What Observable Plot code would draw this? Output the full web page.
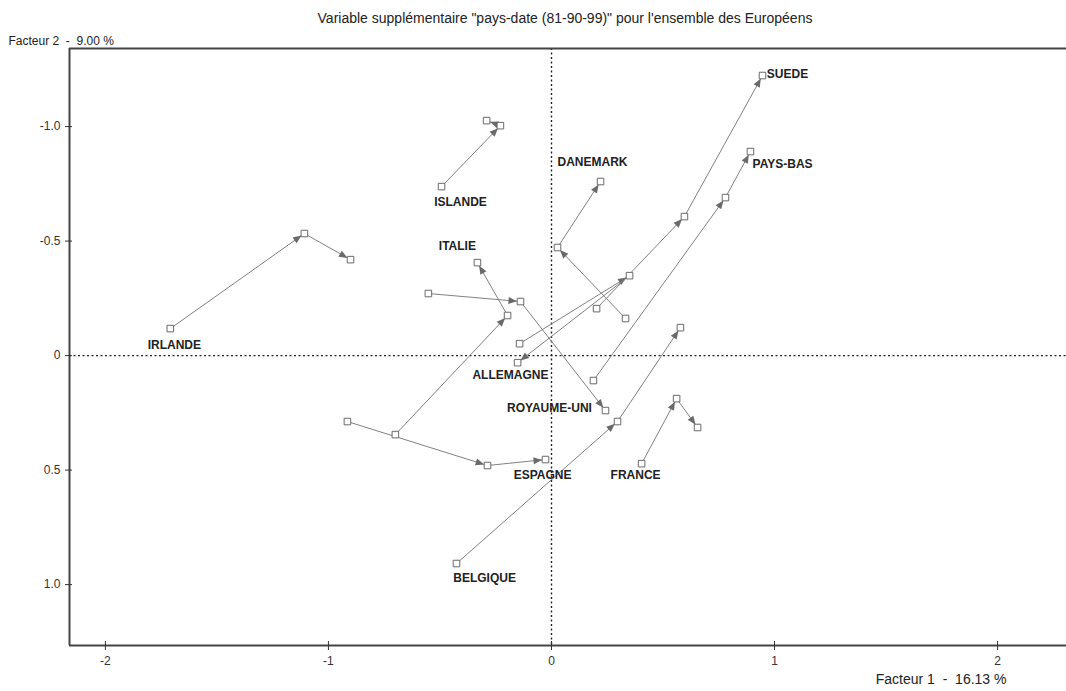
<!DOCTYPE html>
<html><head><meta charset="utf-8">
<script src="https://cdn.jsdelivr.net/npm/d3@7"></script>
<script src="https://cdn.jsdelivr.net/npm/@observablehq/plot@0.6"></script>
<style>body{margin:0;background:#fff;}</style>
</head><body><div id="chart"></div>
<script>
// ---- data ----
const countries = ["IRLANDE","ISLANDE","DANEMARK","SUEDE","PAYS-BAS","ITALIE","ALLEMAGNE","ROYAUME-UNI","ESPAGNE","FRANCE","BELGIQUE"];
const years = ["81","90","99"];
// Facteur 1 coordinates
const f1_81 = [-1.709, -0.493, 0.332, 0.202, 0.188, -0.700, -0.143, -0.552, -0.915, 0.404, -0.426];
const f1_90 = [-1.108, -0.229, 0.027, 0.596, 0.780, -0.197, 0.350, -0.139, -0.287, 0.561, 0.296];
const f1_99 = [-0.901, -0.291, 0.220, 0.946, 0.892, -0.332, -0.152, 0.242, -0.027, 0.655, 0.578];
// Facteur 2 coordinates
const f2_81 = [-0.118, -0.738, -0.162, -0.205, 0.109, 0.345, -0.052, -0.271, 0.288, 0.472, 0.908];
const f2_90 = [-0.533, -1.004, -0.472, -0.607, -0.690, -0.175, -0.349, -0.236, 0.480, 0.188, 0.288];
const f2_99 = [-0.419, -1.026, -0.760, -1.223, -0.891, -0.406, 0.031, 0.240, 0.454, 0.314, -0.122];
// label anchor (centre of each country name)
const labelF1 = [-1.691, -0.408, 0.184, 1.058, 1.036, -0.422, -0.184, -0.009, -0.040, 0.377, -0.300];
const labelF2 = [-0.044, -0.672, -0.843, -1.227, -0.838, -0.476, 0.087, 0.231, 0.524, 0.524, 0.974];
// axes
const xTicks = [-2, -1, 0, 1, 2];
const xTickLabels = ["-2", "-1", "0", "1", "2"];
const yTicks = [-1, -0.5, 0, 0.5, 1];
const yTickLabels = ["-1.0", "-0.5", "0", "0.5", "1.0"];
const xDomain = [-2.161, 2.309];
const yDomain = [-1.341, 1.266];
const title = "Variable supplémentaire \"pays-date (81-90-99)\" pour l'ensemble des Européens";
const xLabel = "Facteur 1  -  16.13 %";
const yLabel = "Facteur 2  -  9.00 %";

// ---- build tables ----
const points = [];
const segments = [];
countries.forEach((c, i) => {
  const xs = [f1_81[i], f1_90[i], f1_99[i]];
  const ys = [f2_81[i], f2_90[i], f2_99[i]];
  for (let k = 0; k < 3; k++) points.push({country: c, year: years[k], x: xs[k], y: ys[k]});
  for (let k = 0; k < 2; k++) segments.push({country: c, x1: xs[k], y1: ys[k], x2: xs[k + 1], y2: ys[k + 1]});
});
const labels = countries.map((c, i) => ({name: c, x: labelF1[i], y: labelF2[i]}));

const NS = "http://www.w3.org/2000/svg";
function arrowMarker(color) {
  const m = document.createElementNS(NS, "marker");
  m.setAttribute("viewBox", "-14 -5 14 10");
  m.setAttribute("markerWidth", 14);
  m.setAttribute("markerHeight", 10);
  m.setAttribute("markerUnits", "userSpaceOnUse");
  m.setAttribute("orient", "auto");
  m.setAttribute("refX", 0);
  m.setAttribute("refY", 0);
  const p = document.createElementNS(NS, "path");
  p.setAttribute("d", "M-12,-3.5L-3.5,0L-12,3.5Z");
  p.setAttribute("fill", "#6a6a6a");
  p.setAttribute("stroke", "none");
  m.appendChild(p);
  return m;
}

const chart = Plot.plot({
  width: 1066, height: 691,
  marginTop: 48, marginLeft: 69, marginRight: 0, marginBottom: 46,
  style: {fontFamily: "'Liberation Sans', Arial, sans-serif", fontSize: "12px", background: "#fff", color: "#333", overflow: "visible"},
  x: {domain: xDomain},
  y: {domain: yDomain, reverse: true},
  marks: [
    Plot.ruleX([0], {stroke: "#222", strokeDasharray: "2,2.5", strokeWidth: 1.4}),
    Plot.ruleY([0], {stroke: "#222", strokeDasharray: "2,2.5", strokeWidth: 1.4}),
    Plot.ruleX([xDomain[0]], {stroke: "#444", strokeWidth: 2}),
    Plot.ruleY(yDomain, {stroke: "#444", strokeWidth: 2}),
    Plot.link(segments, {x1: "x1", y1: "y1", x2: "x2", y2: "y2", stroke: "#808080", strokeWidth: 1, markerEnd: arrowMarker}),
    Plot.dot(points, {x: "x", y: "y", symbol: "square", r: 3.7, fill: "white", stroke: "#6a6a6a", strokeWidth: 1}),
    Plot.text(labels, {x: "x", y: "y", text: "name", fontWeight: "bold", fontSize: 12, fill: "#222"}),
    Plot.axisX(xTicks, {anchor: "bottom", tickSize: 9, dy: -4, tickPadding: 6, stroke: "#333", fill: "#333", fontSize: 12,
      tickFormat: d => xTickLabels[xTicks.indexOf(d)], label: null}),
    Plot.axisY(yTicks, {anchor: "left", tickSize: 7, dx: 3, tickPadding: 5, stroke: "#333", fill: "#333", fontSize: 12,
      tickFormat: d => yTickLabels[yTicks.indexOf(d)], label: null}),
    Plot.text([title], {frameAnchor: "top", dx: -3, dy: -35, fontSize: 14, fill: "#222"}),
    Plot.text([yLabel], {frameAnchor: "top-left", textAnchor: "start", dx: -61, dy: -4, lineAnchor: "bottom", fontSize: 12, fill: "#222"}),
    Plot.text([xLabel], {frameAnchor: "bottom-right", textAnchor: "end", dx: -60, dy: 38, fontSize: 14, fill: "#222"})
  ]
});
document.getElementById("chart").appendChild(chart);
</script>
</body></html>
